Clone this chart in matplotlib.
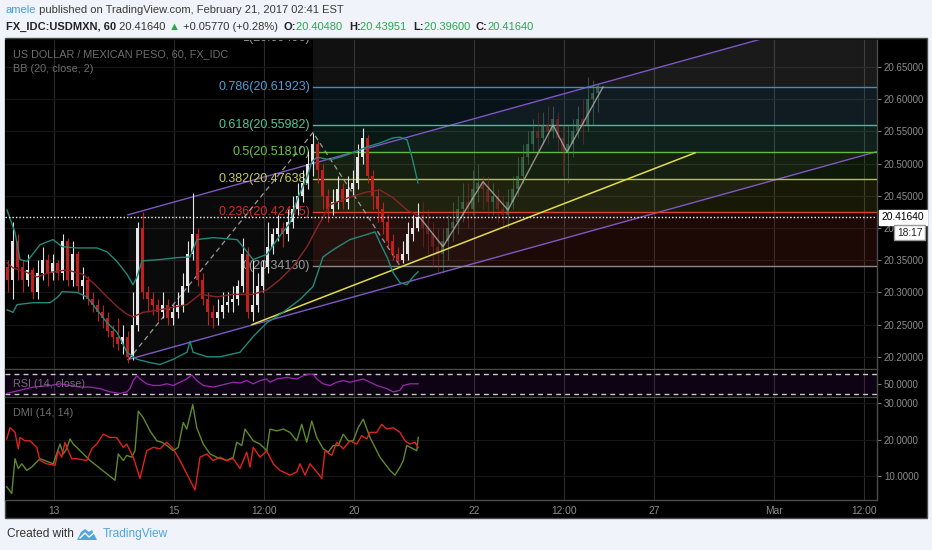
import numpy as np
import matplotlib
matplotlib.use('Agg')
from matplotlib import pyplot as plt
from matplotlib import patches, transforms

W, H = 932, 550
plt.rcParams['font.family'] = ['Liberation Sans', 'DejaVu Sans']

# time axis (hours from the chart start) and its labels
tick_hours = [20, 68, 104, 140, 188, 224, 260, 308, 344]
tick_labels = ['13', '15', '12:00', '20', '22', '12:00', '27', 'Mar', '12:00']

# real 2h candles
first_open = 20.34
closes = [20.32, 20.38, 20.34, 20.32, 20.335, 20.30, 20.33, 20.35, 20.33, 20.345,
          20.33, 20.38, 20.32, 20.36, 20.31, 20.32, 20.29, 20.28, 20.27, 20.26,
          20.24, 20.23, 20.22, 20.23, 20.20, 20.25, 20.40, 20.30, 20.29, 20.28,
          20.27, 20.28, 20.26, 20.27, 20.28, 20.31, 20.36, 20.39, 20.32, 20.29,
          20.27, 20.26, 20.27, 20.28, 20.285, 20.29, 20.31, 20.36, 20.27, 20.28,
          20.31, 20.34, 20.37, 20.39, 20.40, 20.39, 20.41, 20.43, 20.45, 20.47,
          20.50, 20.53, 20.49, 20.45, 20.43, 20.44, 20.46, 20.44, 20.46, 20.47,
          20.51, 20.54, 20.48, 20.45, 20.43, 20.41, 20.38, 20.36, 20.35, 20.36,
          20.39, 20.40, 20.4164]
highs = [20.35, 20.41, 20.39, 20.35, 20.36, 20.34, 20.35, 20.37, 20.36, 20.36,
         20.35, 20.39, 20.385, 20.38, 20.365, 20.34, 20.325, 20.30, 20.29, 20.28,
         20.27, 20.25, 20.26, 20.25, 20.24, 20.30, 20.41, 20.425, 20.31, 20.30,
         20.29, 20.30, 20.29, 20.28, 20.30, 20.33, 20.38, 20.455, 20.40, 20.33,
         20.30, 20.28, 20.29, 20.30, 20.30, 20.31, 20.32, 20.385, 20.37, 20.35,
         20.33, 20.35, 20.41, 20.40, 20.42, 20.41, 20.43, 20.45, 20.47, 20.49,
         20.52, 20.548, 20.535, 20.50, 20.46, 20.46, 20.48, 20.47, 20.48, 20.49,
         20.53, 20.555, 20.545, 20.49, 20.46, 20.44, 20.42, 20.39, 20.37, 20.38,
         20.41, 20.42, 20.4395]
lows = [20.30, 20.29, 20.32, 20.30, 20.31, 20.29, 20.29, 20.32, 20.31, 20.32,
        20.32, 20.32, 20.31, 20.31, 20.30, 20.29, 20.28, 20.27, 20.255, 20.245,
        20.23, 20.215, 20.21, 20.205, 20.19, 20.195, 20.24, 20.29, 20.27, 20.265,
        20.255, 20.26, 20.25, 20.25, 20.26, 20.27, 20.30, 20.35, 20.31, 20.28,
        20.25, 20.245, 20.25, 20.26, 20.27, 20.27, 20.28, 20.30, 20.26, 20.255,
        20.27, 20.30, 20.33, 20.36, 20.38, 20.37, 20.38, 20.40, 20.42, 20.44,
        20.46, 20.48, 20.47, 20.43, 20.41, 20.42, 20.43, 20.43, 20.43, 20.45,
        20.46, 20.50, 20.47, 20.43, 20.41, 20.39, 20.37, 20.35, 20.345, 20.345,
        20.35, 20.38, 20.396]

# projected bars pattern
ghost_open = 20.42
ghost_closes = [20.40, 20.39, 20.37, 20.36, 20.38, 20.40, 20.41, 20.43, 20.44, 20.43,
                20.46, 20.47, 20.46, 20.44, 20.45, 20.43, 20.42, 20.44, 20.46, 20.48,
                20.51, 20.53, 20.55, 20.54, 20.56, 20.55, 20.57, 20.54, 20.52, 20.53,
                20.55, 20.57, 20.56, 20.60, 20.61, 20.62]
ghost_highs = [20.44, 20.43, 20.41, 20.40, 20.40, 20.42, 20.44, 20.45, 20.47, 20.47,
               20.49, 20.50, 20.48, 20.48, 20.47, 20.46, 20.45, 20.46, 20.48, 20.51,
               20.53, 20.55, 20.57, 20.58, 20.58, 20.59, 20.59, 20.58, 20.56, 20.56,
               20.57, 20.59, 20.60, 20.635, 20.63, 20.625]
ghost_lows = [20.37, 20.36, 20.34, 20.33, 20.33, 20.35, 20.38, 20.39, 20.41, 20.40,
              20.42, 20.44, 20.43, 20.42, 20.42, 20.41, 20.40, 20.40, 20.43, 20.45,
              20.47, 20.50, 20.52, 20.52, 20.53, 20.53, 20.54, 20.52, 20.48, 20.47,
              20.51, 20.54, 20.53, 20.55, 20.56, 20.58]
zigzag_hours = [166.4, 175.6, 191.6, 201.6, 219.6, 225.2, 239.6]
zigzag_prices = [20.416, 20.371, 20.472, 20.428, 20.560, 20.518, 20.619]

# Bollinger bands (20, close, 2)
bb_up_h = [1.2, 4.4, 6.4, 9.2, 14.4, 19.6, 23.2, 29.2, 37.2, 41.2, 45.2, 49.2, 51.6, 53.2,
           55.2, 62.4, 69.2, 74.4, 77.2, 83.6, 93.2, 95.6, 99.6, 105.2, 109.2, 114.4, 117.2,
           121.2, 123.2, 125.2, 130.4, 134.4, 139.6, 145.2, 150.4, 155.6, 158.4, 161.2, 163.2, 165.6]
bb_up = [20.428, 20.393, 20.351, 20.348, 20.374, 20.382, 20.371, 20.369, 20.369, 20.363,
         20.348, 20.328, 20.312, 20.324, 20.349, 20.351, 20.354, 20.355, 20.382, 20.385,
         20.382, 20.371, 20.351, 20.359, 20.382, 20.408, 20.444, 20.479, 20.503, 20.510,
         20.506, 20.510, 20.517, 20.526, 20.532, 20.540, 20.541, 20.537, 20.510, 20.470]
bb_lo_h = [1.2, 3.6, 5.2, 11.6, 18.4, 21.6, 23.2, 29.2, 33.2, 37.2, 41.2, 45.2, 49.2, 53.2,
           58.4, 62.4, 67.6, 73.2, 74.4, 75.6, 81.2, 86.4, 94.4, 99.6, 105.2, 111.6, 118.4,
           123.6, 127.6, 131.6, 138.4, 145.2, 148.4, 150.4, 153.2, 155.6, 158.4, 161.2, 163.6, 165.6]
bb_lo = [20.273, 20.269, 20.281, 20.284, 20.284, 20.293, 20.301, 20.300, 20.293, 20.273,
         20.253, 20.238, 20.207, 20.196, 20.191, 20.188, 20.196, 20.207, 20.224, 20.207,
         20.200, 20.200, 20.207, 20.231, 20.253, 20.269, 20.289, 20.309, 20.355, 20.366,
         20.382, 20.390, 20.394, 20.377, 20.355, 20.331, 20.315, 20.312, 20.324, 20.332]
bb_mid_h = [1.2, 3.6, 9.2, 13.2, 18.4, 25.2, 31.6, 35.6, 41.2, 45.2, 49.2, 51.6, 55.6, 62.4,
            73.2, 78.4, 85.2, 91.6, 99.6, 105.2, 110.4, 115.6, 121.2, 125.2, 130.4, 138.4,
            145.2, 150.4, 155.6, 161.2, 165.6]
bb_mid = [20.346, 20.338, 20.331, 20.324, 20.331, 20.335, 20.328, 20.315, 20.293, 20.278,
          20.266, 20.262, 20.269, 20.273, 20.281, 20.297, 20.293, 20.297, 20.297, 20.304,
          20.320, 20.340, 20.371, 20.400, 20.436, 20.448, 20.456, 20.459, 20.447, 20.428, 20.419]

# trend-based fib extension
fib_anchor_hours = [49.6, 123.6, 158.4]
fib_anchor_prices = [20.1946, 20.5483, 20.3413]
fib_ratios = ['0', '0.236', '0.382', '0.5', '0.618', '0.786', '1']
fib_prices = [20.34130, 20.42475, 20.47638, 20.51810, 20.55982, 20.61923, 20.69496]
fib_colors = ['#8a8a8a', '#d9442e', '#b3c834', '#62bb3f', '#3fbf9c', '#3b8fc6', '#8a8a8a']
fib_label_colors = ['#9a9a9a', '#c9302c', '#c6cf4a', '#6cc44a', '#4cc9a0', '#4a9fd8', '#9a9a9a']

# parallel channel and trend line
chan_hours = [49.6, 349.2]
chan_upper = [20.4205, 20.7435]
chan_lower = [20.1957, 20.5187]
trend_hours = [99.2, 276.4]
trend_prices = [20.250, 20.5167]

last_price = 20.4164

# RSI (14, close)
rsi_h = [1.1, 3.7, 6.4, 9.1, 11.7, 14.4, 18.4, 22.4, 26.4, 30.4, 34.4, 38.4, 42.4, 46.4,
         49.1, 50.4, 51.7, 53.1, 54.4, 57.1, 59.7, 62.4, 65.1, 67.7, 70.4, 73.1, 75.1, 77.1,
         79.7, 83.7, 86.4, 89.1, 91.7, 94.4, 97.1, 99.7, 102.4, 105.1, 106.4, 109.1, 113.1,
         117.1, 119.7, 121.7, 123.7, 125.1, 127.7, 130.4, 133.1, 135.7, 138.4, 141.1, 143.7,
         146.4, 149.1, 153.1, 155.7, 158.4, 159.7, 162.4, 165.7]
rsi = [31.3, 34.4, 37.6, 40.8, 43.9, 45.2, 47.1, 50.3, 47.1, 43.9, 43.9, 40.8, 34.4, 31.3,
       34.4, 40.8, 56.7, 66.2, 59.8, 50.3, 47.1, 47.1, 50.3, 47.1, 53.5, 59.8, 68.1, 56.7,
       47.1, 43.9, 47.1, 50.3, 53.5, 52.0, 56.7, 50.3, 56.7, 59.8, 53.5, 59.8, 63.0,
       59.8, 66.2, 69.4, 69.4, 59.8, 50.3, 47.1, 53.5, 56.7, 53.5, 56.7, 59.8,
       53.5, 47.1, 40.8, 34.4, 37.6, 47.1, 50.3, 50.3]

# DMI (14, 14)
dmi_red_h = [1.1, 2.4, 4.4, 5.7, 6.4, 8.4, 10.4, 11.7, 13.1, 14.4, 17.1, 20.4, 21.7, 23.1,
             24.4, 25.7, 27.1, 29.1, 33.1, 35.1, 37.1, 39.7, 42.4, 45.1, 47.7, 49.1, 51.7,
             54.4, 57.1, 59.7, 62.4, 65.1, 67.7, 70.4, 73.1, 76.4, 78.4, 81.1, 83.7, 86.4,
             89.1, 91.7, 94.4, 97.1, 98.4, 99.7, 102.4, 105.1, 107.7, 110.4, 114.4, 117.1,
             118.4, 120.4, 122.4, 125.1, 127.1, 128.4, 131.1, 133.1, 135.7, 138.4, 141.1,
             143.1, 145.1, 146.4, 149.1, 151.1, 153.1, 155.7, 158.4, 160.4, 162.4, 164.4, 165.7]
dmi_red = [20.2, 23.3, 22.0, 17.5, 20.6, 19.7, 19.7, 18.8, 17.9, 14.3, 13.4, 13.0, 17.0, 15.2,
           19.3, 17.0, 14.8, 14.8, 14.3, 17.5, 18.8, 21.5, 20.6, 20.6, 17.9, 18.8, 15.2,
           9.4, 17.0, 17.9, 17.5, 19.3, 17.5, 14.3, 10.7, 6.2, 15.2, 16.1, 14.3, 15.2,
           14.3, 14.8, 12.1, 16.6, 12.5, 17.9, 15.2, 17.0, 13.4, 11.6, 10.3, 11.2,
           13.4, 10.3, 13.4, 11.2, 9.4, 17.0, 15.7, 19.3, 17.5, 19.7, 18.8,
           21.1, 20.2, 22.0, 22.0, 24.2, 22.9, 23.3, 22.0, 19.7, 18.8, 19.3, 17.9]
dmi_green_h = [1.1, 3.1, 4.4, 5.7, 7.1, 9.1, 11.1, 13.1, 14.4, 19.7, 22.4, 23.7, 25.1, 26.4,
               27.7, 30.4, 34.4, 44.4, 45.7, 47.7, 49.1, 51.1, 52.4, 53.7, 55.7, 58.4, 61.1,
               63.1, 64.4, 67.7, 69.7, 71.7, 73.1, 75.5, 77.1, 79.7, 82.4, 85.1, 89.1, 91.7,
               93.1, 95.1, 96.4, 99.7, 102.4, 105.1, 106.4, 109.1, 111.7, 114.4, 117.1, 119.1,
               121.1, 123.1, 125.1, 127.7, 129.7, 131.7, 133.7, 135.7, 137.7, 139.7, 141.7,
               143.7, 146.4, 150.4, 154.4, 156.4, 158.4, 159.7, 161.1, 163.7, 165.1, 165.7]
dmi_green = [7.1, 5.3, 14.8, 12.1, 13.4, 11.6, 12.5, 13.9, 14.8, 13.4, 18.8, 16.1, 17.5, 20.2,
             18.8, 17.0, 14.3, 8.9, 16.1, 14.3, 15.7, 15.2, 17.0, 27.8, 26.0, 22.4, 19.7,
             19.3, 18.8, 17.0, 17.9, 24.7, 22.9, 29.6, 23.3, 18.8, 16.1, 15.2, 14.3, 15.2,
             19.3, 18.4, 22.9, 19.7, 18.8, 17.0, 22.9, 22.4, 22.9, 22.0, 19.7, 24.2,
             19.3, 25.1, 20.6, 17.5, 16.6, 18.4, 18.4, 21.5, 19.7, 19.7, 23.3,
             25.6, 20.6, 15.2, 11.6, 10.3, 12.5, 14.3, 18.4, 17.5, 17.0, 20.6]

XMIN, XMAX = 0.4, 349.2
GRAY_TXT = '#8c8c8c'

fig = plt.figure(figsize=(W / 100, H / 100), dpi=100)
fig.patch.set_facecolor('#f0f3fa')
fig.add_artist(patches.Rectangle((5 / W, 1 - 518 / H), 922 / W, 480 / H, transform=fig.transFigure,
                                 facecolor='black', edgecolor='#4a4a4a', lw=1, zorder=-5))


def pane(y0, y1):
    ax = fig.add_axes([5 / W, 1 - y1 / H, 872 / W, (y1 - y0) / H])
    ax.set_facecolor('black')
    ax.set_xlim(XMIN, XMAX)
    for s in ax.spines.values():
        s.set_color('#4a4a4a')
        s.set_linewidth(1)
    ax.spines['left'].set_visible(False)
    ax.spines['top'].set_visible(False)
    ax.yaxis.tick_right()
    ax.set_xticks(tick_hours)
    ax.tick_params(axis='x', length=0, labelbottom=False)
    ax.tick_params(axis='y', direction='out', length=3, color='#777', labelcolor=GRAY_TXT,
                   labelsize=7, pad=2)
    for h in tick_hours:
        ax.axvline(h, color='#2b2b2b', lw=0.8, zorder=0)
    return ax


def draw_candles(ax, hours, first, cl, hi, lo, up, down, alpha, width=1.1):
    cl = np.array(cl)
    op = np.concatenate([[first], cl[:-1]])
    cols = [up if c >= o else down for o, c in zip(op, cl)]
    ax.vlines(hours, lo, hi, colors=cols, lw=0.8, alpha=alpha, zorder=4)
    body = np.maximum(np.abs(cl - op), 0.002)
    ax.bar(hours, body, bottom=np.minimum(op, cl), width=width, color=cols, alpha=alpha,
           lw=0, zorder=4)


# ---------------- main price pane ----------------
ax = pane(40, 369)
ax.set_ylim(20.181, 20.692)
price_ticks = [20.20, 20.25, 20.30, 20.35, 20.40, 20.45, 20.50, 20.55, 20.60, 20.65]
ax.set_yticks(price_ticks)
ax.set_yticklabels(['%.5f' % p for p in price_ticks])
for p in price_ticks:
    ax.axhline(p, color='#161616', lw=0.8, zorder=0)

# channel fill + lines
ax.fill_between(chan_hours, chan_lower, chan_upper, color='#ffffff', alpha=0.045, lw=0, zorder=1)
ax.plot(chan_hours, chan_upper, color='#7e57c2', lw=1, zorder=3)
ax.plot(chan_hours, chan_lower, color='#7e57c2', lw=1, zorder=3)

# fib extension
x_lvl = fib_anchor_hours[1]
for i in range(len(fib_prices)):
    if i > 0:
        ax.fill_between([x_lvl, XMAX], fib_prices[i - 1], fib_prices[i], color=fib_colors[i],
                        alpha=0.13, lw=0, zorder=1)
    ax.plot([x_lvl, XMAX], [fib_prices[i]] * 2, color=fib_colors[i], lw=1, zorder=3)
    ax.text(x_lvl - 1.2, fib_prices[i], '%s(%.5f)' % (fib_ratios[i], fib_prices[i]),
            color=fib_label_colors[i], fontsize=9, ha='right', va='center', zorder=3, clip_on=True)
ax.plot(fib_anchor_hours, fib_anchor_prices, color='#9a9a9a', lw=0.9, ls=(0, (4, 3)), zorder=3)

ax.plot(trend_hours, trend_prices, color='#e3dc4a', lw=1.1, zorder=5)

# Bollinger bands
ax.plot(bb_up_h, bb_up, color='#23897a', lw=1, zorder=5)
ax.plot(bb_lo_h, bb_lo, color='#23897a', lw=1, zorder=5)
ax.plot(bb_mid_h, bb_mid, color='#8a2424', lw=1, zorder=5)

bar_hours = 1.4 + 2 * np.arange(len(closes))
draw_candles(ax, bar_hours, first_open, closes, highs, lows, '#e6e6e6', '#c21f1f', 1.0)
ghost_hours = bar_hours[-1] + 2 + 2 * np.arange(len(ghost_closes))
draw_candles(ax, ghost_hours, ghost_open, ghost_closes, ghost_highs, ghost_lows,
             '#4f8a64', '#9a2b2b', 0.5)
ax.plot(zigzag_hours, zigzag_prices, color='#b0b0b0', lw=1, alpha=0.8, zorder=6)

ax.axhline(last_price, color='white', lw=1, ls=(0, (1, 1.5)), zorder=7)
btr = transforms.blended_transform_factory(ax.transAxes, ax.transData)
ax.text(1.005, last_price, '%.5f' % last_price, transform=btr, fontsize=7.4, color='black',
        ha='left', va='center', zorder=10, clip_on=False,
        bbox=dict(boxstyle='square,pad=0.25', fc='white', ec='white'))
ax.text(1.023, last_price - 0.024, '18:17', transform=btr, fontsize=7.4, color='#222',
        ha='left', va='center', zorder=10, clip_on=False,
        bbox=dict(boxstyle='square,pad=0.25', fc='white', ec='#999'))

fig.text(13 / W, 1 - 54 / H, 'US DOLLAR / MEXICAN PESO, 60, FX_IDC', color='#6e6e6e',
         fontsize=7.8, va='center')
fig.text(13 / W, 1 - 69 / H, 'BB (20, close, 2)', color='#6e6e6e', fontsize=7.8, va='center')

# ---------------- RSI pane ----------------
rx = pane(370, 397)
rx.set_ylim(24.3, 77.6)
rx.axhspan(30, 70, color='#6a1b9a', alpha=0.14, lw=0, zorder=0)
rx.axhline(70, color='#c8c8c8', lw=1, ls=(0, (3.5, 3)), zorder=2)
rx.axhline(30, color='#c8c8c8', lw=1, ls=(0, (3.5, 3)), zorder=2)
rx.plot(rsi_h, rsi, color='#9c27b0', lw=0.9, zorder=3)
rx.set_yticks([50])
rx.set_yticklabels(['50.0000'])
fig.text(13 / W, 1 - 384 / H, 'RSI (14, close)', color='#6e6e6e', fontsize=7.8, va='center')

# ---------------- DMI pane ----------------
dx = pane(398, 500)
dx.set_ylim(3.5, 31.4)
dx.set_yticks([10, 20, 30])
dx.set_yticklabels(['10.0000', '20.0000', '30.0000'])
for v in [10, 20, 30]:
    dx.axhline(v, color='#161616', lw=0.8, zorder=0)
dx.plot(dmi_green_h, dmi_green, color='#5f8a2c', lw=1, zorder=3)
dx.plot(dmi_red_h, dmi_red, color='#e0231c', lw=1, zorder=3)
dx.set_xticklabels(tick_labels)
dx.tick_params(axis='x', labelbottom=True, labelcolor=GRAY_TXT, labelsize=7.4, pad=4)
fig.text(13 / W, 1 - 413 / H, 'DMI (14, 14)', color='#6e6e6e', fontsize=7.8, va='center')

# ---------------- header / footer ----------------
renderer = fig.canvas.get_renderer()


def text_run(x_px, y_px, pieces, size):
    x = x_px
    for s, col, bold in pieces:
        t = fig.text(x / W, 1 - y_px / H, s, color=col, fontsize=size, va='center',
                     fontweight='bold' if bold else 'normal')
        x = t.get_window_extent(renderer).x1
    return x


text_run(6, 10, [('amele', '#3ba0e0', False),
                 (' published on TradingView.com, February 21, 2017 02:41 EST', '#3a3a3a', False)], 8)
green = '#2aa84a'
text_run(6, 27, [('FX_IDC:USDMXN, 60', '#222', True), (' 20.41640 ', '#333', False),
                 ('\u25b2', green, False), (' +0.05770 (+0.28%)  ', '#333', False),
                 ('O:', '#222', True), ('20.40480  ', green, False),
                 ('H:', '#222', True), ('20.43951  ', green, False),
                 ('L:', '#222', True), ('20.39600  ', green, False),
                 ('C:', '#222', True), ('20.41640', green, False)], 8)

fig.text(7 / W, 1 - 534 / H, 'Created with', color='#333', fontsize=8.6, va='center')
logo = [(77, 540), (81, 532), (85, 529), (89, 532), (92, 530), (97, 540)]
fig.add_artist(patches.Polygon([(x / W, 1 - y / H) for x, y in logo], closed=True,
                               transform=fig.transFigure, fc='#4ea6dc', ec='none'))
fig.add_artist(plt.Line2D([(80 / W), 85 / W, 89 / W, 95 / W],
                          [1 - 538 / H, 1 - 533 / H, 1 - 537 / H, 1 - 532 / H],
                          transform=fig.transFigure, color='white', lw=1))
fig.text(103 / W, 1 - 534 / H, 'TradingView', color='#4ea6dc', fontsize=8.6, va='center')

fig.savefig('out.png', dpi=100, facecolor=fig.get_facecolor())
